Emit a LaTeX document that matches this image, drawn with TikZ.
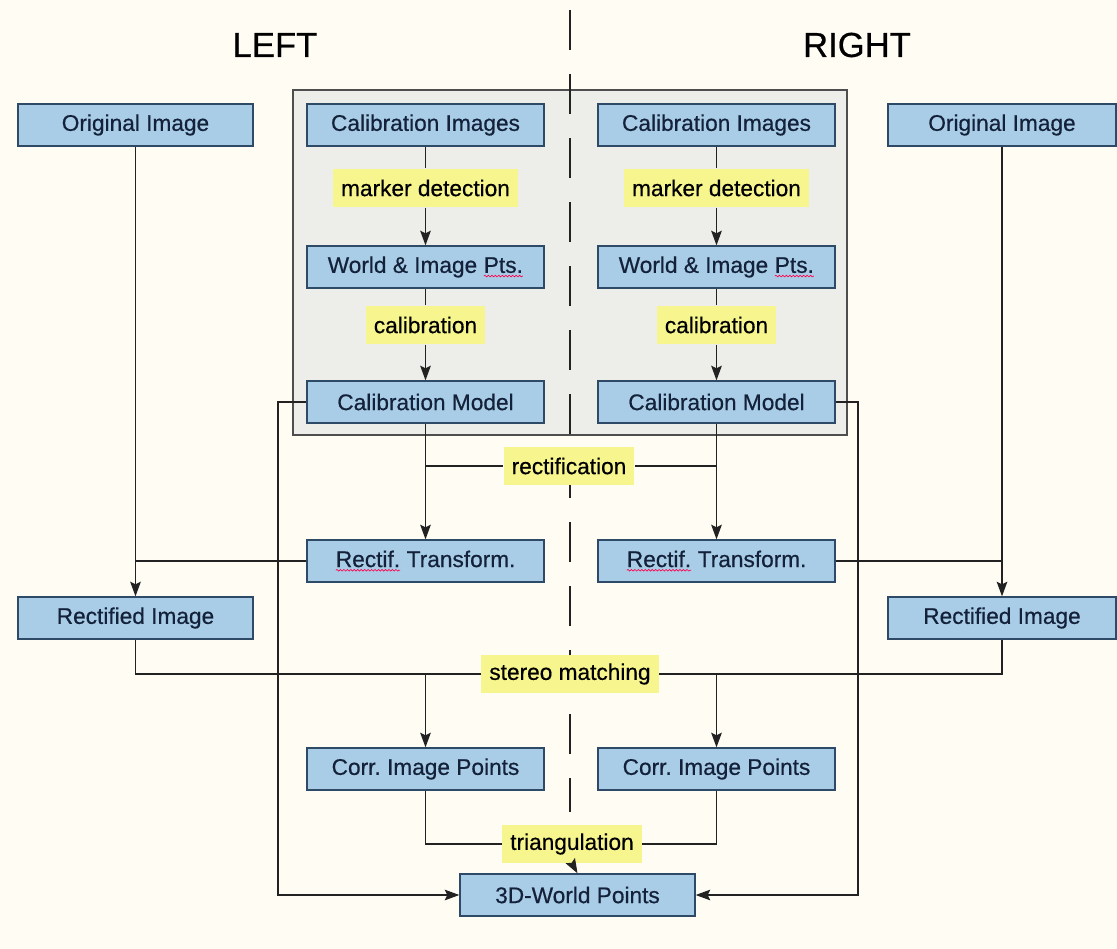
\documentclass[tikz,border=0pt]{standalone}
\usepackage{fontspec}
\setmainfont{Liberation Sans}
\frenchspacing
\usetikzlibrary{arrows.meta,decorations.pathmorphing}
\definecolor{bg}{HTML}{FFFDF3}
\definecolor{graybox}{HTML}{EDEDEA}
\definecolor{boxfill}{HTML}{A9CDE6}
\definecolor{boxline}{HTML}{2E4A66}
\definecolor{boxtext}{HTML}{14213A}
\definecolor{lbl}{HTML}{F7F58E}
\definecolor{ln}{HTML}{222222}
\newfontfamily\boxfont[FakeBold=0.5]{Liberation Sans}
\newcommand\squig[1]{\tikz[baseline=(s.base)]{\node[inner sep=0pt,outer sep=0pt,minimum width=0pt,minimum height=0pt,draw=none,fill=none](s){#1};\draw[red!70!magenta,line width=0.5pt,decorate,decoration={snake,amplitude=0.6pt,segment length=2.6pt}]([yshift=-2.4pt]s.base west)--([yshift=-2.4pt]s.base east);}}
\begin{document}
\begin{tikzpicture}[x=0.75pt,y=-0.75pt,
  box/.style={draw=boxline,line width=1pt,fill=boxfill,text=boxtext,minimum width=177.75pt,minimum height=31.5pt,inner sep=0pt,font=\boxfont\fontsize{17}{20}\selectfont},
  lab/.style={fill=lbl,text=black,inner xsep=6pt,minimum height=29pt,inner ysep=0pt,font=\boxfont\fontsize{17}{20}\selectfont},
  arr/.style={-{Stealth[length=11pt,width=8pt,inset=2pt]}},
  conn/.style={draw=ln,line width=0.9pt},
  head/.style={font=\boxfont\fontsize{26}{30}\selectfont}]
\fill[bg] (0,0) rectangle (1117,949);
\useasboundingbox (0,0) rectangle (1117,949);
% gray calibration frame
\draw[fill=graybox,draw=ln!80,line width=0.9pt] (293,90) rectangle (847,435);
% center dashed separator
\coordinate (dtop) at (570,10);
\coordinate (dbot) at (570,812);
\draw[ln,line width=1pt,dash pattern=on 30pt off 18pt] (dtop) -- (dbot);
% headings
\node[head] (left) at (275,45) {LEFT};
\node[head] (right) at (857,45) {RIGHT};
% boxes
\node[box,minimum width=176.25pt] (ol) at (135.5,125) {Original Image};
\node[box] (cil) at (425.5,125) {Calibration Images};
\node[box] (cir) at (716.5,125) {Calibration Images};
\node[box,minimum width=171pt] (or) at (1002,125) {Original Image};
\node[lab] (mdl) at (425.5,188) {marker detection};
\node[lab] (mdr) at (716.5,188) {marker detection};
\node[box] (wil) at (425.5,267) {World \& Image \squig{Pts.}};
\node[box] (wir) at (716.5,267) {World \& Image \squig{Pts.}};
\node[lab] (cal) at (425.5,325) {calibration};
\node[lab] (car) at (716.5,325) {calibration};
\node[box] (cml) at (425.5,402) {Calibration Model};
\node[box] (cmr) at (716.5,402) {Calibration Model};
\node[lab] (rect) at (569,466) {rectification};
\node[box] (rtl) at (425.5,561) {\squig{Rectif.} Transform.};
\node[box] (rtr) at (716.5,561) {\squig{Rectif.} Transform.};
\node[box,minimum width=176.25pt] (ril) at (135.5,618) {Rectified Image};
\node[box,minimum width=171pt] (rir) at (1002,618) {Rectified Image};
\node[lab] (sm) at (570,674) {stereo matching};
\node[box] (cpl) at (425.5,769) {Corr. Image Points};
\node[box] (cpr) at (716.5,769) {Corr. Image Points};
\node[lab] (tri) at (572,844) {triangulation};
\node[box,minimum width=176.25pt] (wp) at (577.5,895) {3D-World Points};
% calibration chains
\draw[conn] (cil) -- (mdl);
\draw[conn,arr] (mdl) -- (wil);
\draw[conn] (cir) -- (mdr);
\draw[conn,arr] (mdr) -- (wir);
\draw[conn] (wil) -- (cal);
\draw[conn,arr] (cal) -- (cml);
\draw[conn] (wir) -- (car);
\draw[conn,arr] (car) -- (cmr);
% rectification
\draw[conn,arr] (cml.south) -- (rtl.north);
\draw[conn,arr] (cmr.south) -- (rtr.north);
\draw[conn] (cml.south |- rect.west) -- (rect.west);
\draw[conn] (rect.east) -- (cmr.south |- rect.east);
% original -> rectified
\draw[conn,arr] (ol.south) -- (ril.north);
\draw[conn,arr] (or.south) -- (rir.north);
\draw[conn] (rtl.west) -- (rtl.west -| ol.south);
\draw[conn] (rtr.east) -- (rtr.east -| or.south);
% stereo matching
\draw[conn] (ril.south) |- (sm.west);
\draw[conn] (rir.south) |- (sm.east);
\draw[conn,arr] (cpl.north |- sm.west) -- (cpl.north);
\draw[conn,arr] (cpr.north |- sm.east) -- (cpr.north);
% triangulation
\draw[conn] (cpl.south) |- (tri.west);
\draw[conn] (cpr.south) |- (tri.east);
\draw[conn,arr] (tri.south) -- (wp.north);
% calibration model -> 3D points
\coordinate (lbend) at (278,402);
\coordinate (rbend) at (858,402);
\draw[conn,arr] (cml.west) -- (lbend) |- (wp.west);
\draw[conn,arr] (cmr.east) -- (rbend) |- (wp.east);
\end{tikzpicture}
\end{document}
